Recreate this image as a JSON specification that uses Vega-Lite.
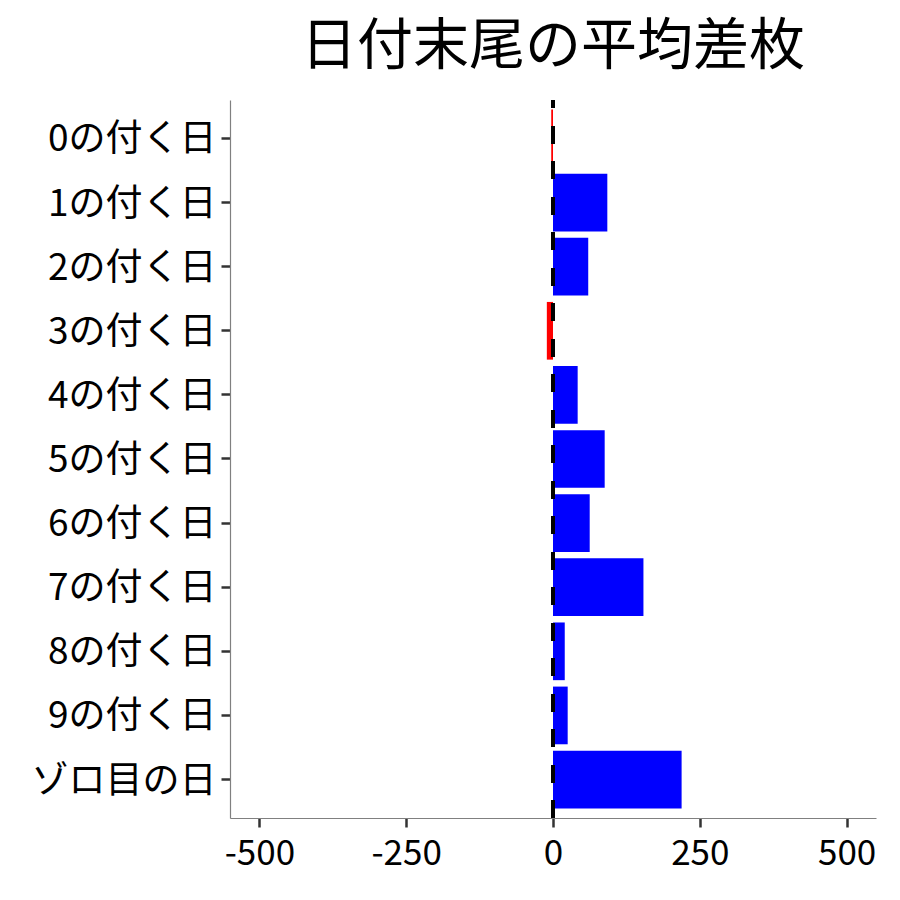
{
  "$schema": "https://vega.github.io/schema/vega-lite/v6.json",
  "width": 646,
  "height": 718,
  "autosize": {"type": "none"},
  "padding": {"left": 230, "top": 100, "right": 24, "bottom": 82},
  "background": "white",
  "title": {
    "text": "日付末尾の平均差枚",
    "fontSize": 56,
    "font": "Noto Sans CJK JP",
    "fontWeight": "normal",
    "color": "black",
    "anchor": "middle",
    "offset": 22
  },
  "config": {
    "view": {"stroke": null},
    "font": "Noto Sans CJK JP",
    "axis": {
      "grid": false,
      "domainColor": "#808080",
      "domainWidth": 1.2,
      "tickColor": "#333333",
      "tickWidth": 2.5,
      "tickSize": 9,
      "labelColor": "black",
      "labelFont": "Noto Sans CJK JP",
      "labelFontSize": 35,
      "labelLimit": 0,
      "title": null
    }
  },
  "data": {
    "values": [
      {"day": "0の付く日", "value": -3},
      {"day": "1の付く日", "value": 92.5},
      {"day": "2の付く日", "value": 60},
      {"day": "3の付く日", "value": -10.5},
      {"day": "4の付く日", "value": 42},
      {"day": "5の付く日", "value": 88},
      {"day": "6の付く日", "value": 62.5},
      {"day": "7の付く日", "value": 154},
      {"day": "8の付く日", "value": 20},
      {"day": "9の付く日", "value": 25},
      {"day": "ゾロ目の日", "value": 219}
    ]
  },
  "layer": [
    {
      "mark": {"type": "bar"},
      "encoding": {
        "y": {
          "field": "day",
          "type": "nominal",
          "sort": null,
          "scale": {"paddingInner": 0.1, "paddingOuter": 0.15},
          "axis": {"labelPadding": 5, "labelFontSize": 37, "labelOffset": 2, "labelLimit": 0}
        },
        "x": {
          "field": "value",
          "type": "quantitative",
          "scale": {"domain": [-550, 550], "nice": false, "zero": false},
          "axis": {"values": [-500, -250, 0, 250, 500], "labelPadding": 9, "labelExpr": "replace(format(datum.value, 'd'), '\u2212', '-')"}
        },
        "color": {
          "condition": {"test": "datum.value < 0", "value": "#ff0000"},
          "value": "#0000ff"
        }
      }
    },
    {
      "mark": {"type": "rule", "color": "black", "strokeWidth": 4, "strokeDash": [17.5, 18], "strokeDashOffset": 9.5},
      "encoding": {
        "x": {"datum": 0, "type": "quantitative"}
      }
    }
  ]
}
